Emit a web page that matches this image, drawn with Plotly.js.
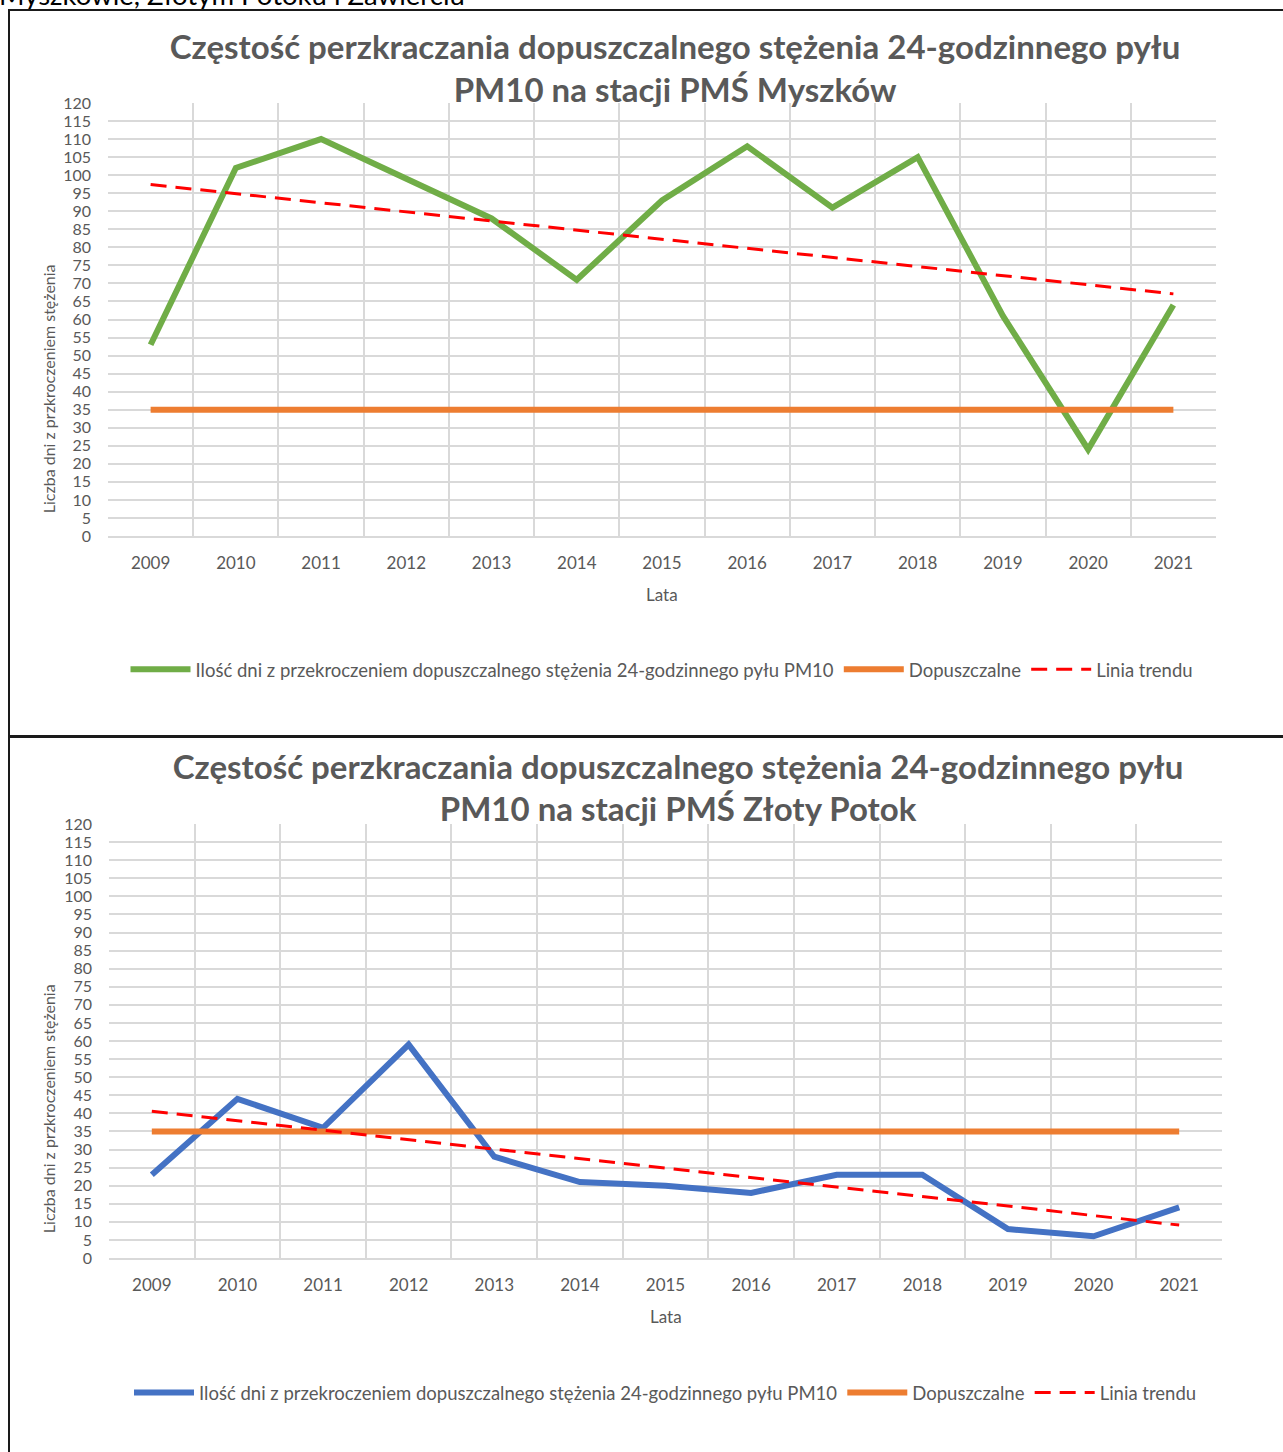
<!DOCTYPE html>
<html>
<head>
<meta charset="utf-8">
<script src="https://cdn.plot.ly/plotly-3.0.1.min.js"></script>
<style>
  html, body { margin:0; padding:0; width:1283px; height:1452px; overflow:hidden; background:#fff; }
  #cut { position:absolute; left:-1px; top:-19px; font-family:Lato, sans-serif; font-size:27.5px; line-height:27px; color:#000; white-space:nowrap; }
  .box { position:absolute; left:8px; width:1290px; border:2px solid #1a1a1a; box-sizing:border-box; }
  #box1 { top:9px; height:729px; }
  #box2 { top:735px; height:730px; }
  .chart { position:absolute; left:9px; width:1280px; }
  #chart1 { top:11px; height:724px; }
  #chart2 { top:737px; height:720px; }
</style>
</head>
<body>
<div id="cut">Myszkowie, Złotym Potoku i Zawierciu</div>
<div class="box" id="box1"></div>
<div class="box" id="box2"></div>
<div class="chart" id="chart1"></div>
<div class="chart" id="chart2"></div>
<script>
// ---- data ----
const years = ['2009','2010','2011','2012','2013','2014','2015','2016','2017','2018','2019','2020','2021'];
const myszkowDays = [53,102,110,99,88,71,93,108,91,105,61,24,64];
const zlotyPotokDays = [23,44,36,59,28,21,20,18,23,23,8,6,14];
const allowed = [35,35,35,35,35,35,35,35,35,35,35,35,35];
const myszkowTrend = [97.4, 67.1];      // trend line at 2009 and 2021
const zlotyPotokTrend = [40.6, 9.1];    // trend line at 2009 and 2021
const trendYears = ['2009','2021'];
const titles = [
  'Częstość perzkraczania dopuszczalnego stężenia 24-godzinnego pyłu<br>PM10 na stacji PMŚ Myszków',
  'Częstość perzkraczania dopuszczalnego stężenia 24-godzinnego pyłu<br>PM10 na stacji PMŚ Złoty Potok'
];
const seriesName = 'Ilość dni z przekroczeniem dopuszczalnego stężenia 24-godzinnego pyłu PM10';
const allowedName = 'Dopuszczalne';
const trendName = 'Linia trendu';
const yTitle = 'Liczba dni z przkroczeniem stężenia';
const xTitle = 'Lata';

const grey = '#595959';
const font = 'Lato, "Open Sans", sans-serif';

function makeChart(id, title, values, trend, color, m, geo) {
  const traces = [
    { x: years, y: values, name: seriesName, type: 'scatter', mode: 'lines',
      line: { color: color, width: 6 } },
    { x: years, y: allowed, name: allowedName, type: 'scatter', mode: 'lines',
      line: { color: '#ED7D31', width: 6 } },
    { x: trendYears, y: trend, name: trendName, type: 'scatter', mode: 'lines',
      line: { color: '#FF0000', width: 3, dash: '16px,9px' } }
  ];
  const layout = {
    width: 1280, height: geo.h,
    margin: m,
    paper_bgcolor: 'rgba(0,0,0,0)', plot_bgcolor: '#fff',
    font: { family: font, color: grey, size: 16 },
    showlegend: true,
    title: { text: title, x: geo.tx, xanchor: 'center', y: geo.ty, yanchor: 'middle',
             xref: 'container', yref: 'container',
             font: { family: font, size: 33, color: grey, weight: 'bold' } },
    xaxis: { type: 'category', range: [-0.5, 12.5], tickson: 'boundaries',
             showgrid: true, gridcolor: '#D9D9D9', gridwidth: 2,
             showline: true, linecolor: '#D9D9D9', linewidth: 2,
             ticks: '', zeroline: false, fixedrange: true,
             tickfont: { size: 17, color: grey }, ticklabelstandoff: 11 },
    yaxis: { range: [0, 120], dtick: 5, tick0: 0,
             showgrid: true, gridcolor: '#D9D9D9', gridwidth: 2,
             zeroline: false, showline: false, ticks: '', fixedrange: true,
             tickfont: { size: 16, color: grey }, ticklabelstandoff: 16 },
    legend: { orientation: 'h', x: 0.5, xanchor: 'center', y: geo.ly, yanchor: 'middle',
              font: { size: 18.5, color: grey }, itemwidth: 60,
              bgcolor: 'rgba(0,0,0,0)' },
    annotations: [
      { text: yTitle, xref: 'paper', yref: 'paper', x: 0, y: geo.yty, xanchor: 'center', yanchor: 'middle',
        xshift: geo.ytx, textangle: -90, showarrow: false, font: { size: 16, color: grey } },
      { text: xTitle, xref: 'paper', yref: 'paper', x: 0.5, y: 0, xanchor: 'center', yanchor: 'middle',
        yshift: geo.xty, showarrow: false, font: { size: 17, color: grey } }
    ]
  };
  Plotly.newPlot(id, traces, layout, { staticPlot: true, displayModeBar: false });
}

makeChart('chart1', titles[0], myszkowDays, myszkowTrend, '#70AD47',
  { l: 99, r: 73, t: 92, b: 199 },
  { h: 724, tx: 666/1280, ty: 1 - 48/724, ly: -0.309, yty: 0.339, ytx: -60, xty: -58 });

makeChart('chart2', titles[1], zlotyPotokDays, zlotyPotokTrend, '#4472C4',
  { l: 100, r: 67, t: 87, b: 199 },
  { h: 720, tx: 669/1280, ty: 1 - 41.5/720, ly: -0.311, yty: 0.343, ytx: -61, xty: -58 });
</script>
</body>
</html>
